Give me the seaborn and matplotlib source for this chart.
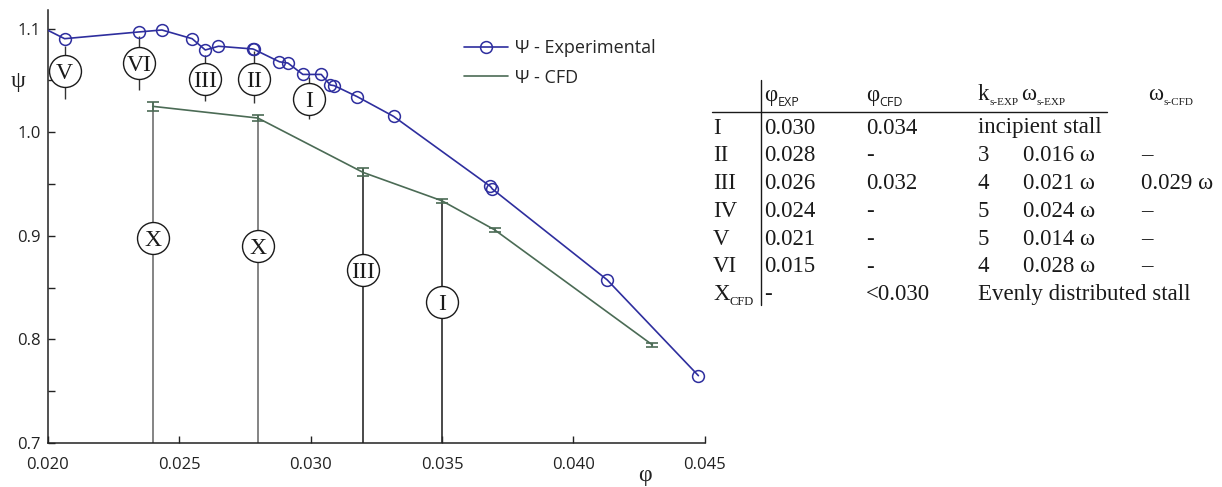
"""Compressor characteristic with stall inception markers"""
import numpy as np
import pandas as pd
import matplotlib.pyplot as plt
import seaborn as sns
from matplotlib.ticker import MultipleLocator

# Experimental characteristic
exp_phi = [0.0195, 0.02065, 0.02347, 0.02435, 0.0255, 0.0260, 0.0265, 0.0278, 0.02785,
           0.02882, 0.02914, 0.02971, 0.03041, 0.03075, 0.0309, 0.03178, 0.03316,
           0.03684, 0.03692, 0.04128, 0.04475]
exp_psi = [1.105, 1.0903, 1.0968, 1.0987, 1.0903, 1.0794, 1.083, 1.0804, 1.080,
           1.068, 1.0668, 1.0558, 1.0558, 1.0456, 1.045, 1.0343, 1.0153,
           0.9477, 0.9451, 0.8575, 0.765]

# CFD characteristic with error bars
cfd_phi = [0.024, 0.028, 0.032, 0.035, 0.037, 0.043]
cfd_psi = [1.025, 1.0137, 0.9612, 0.9338, 0.9058, 0.7947]
cfd_err = [0.0042, 0.003, 0.0039, 0.0017, 0.0022, 0.0022]

# Stall markers on the experimental curve
exp_lab = ['V', 'VI', 'III', 'II', 'I']
exp_lab_x = [0.02065, 0.02347, 0.0260, 0.02785, 0.02996]
exp_lab_y = [1.0588, 1.0668, 1.0513, 1.0513, 1.032]
exp_stem_lo = [1.032, 1.0404, 1.0298, 1.0282, 1.0128]
exp_stem_hi = [1.0828, 1.0926, 1.0749, 1.078, 1.0533]

# Stall markers on the CFD curve
cfd_lab = ['X', 'X', 'III', 'I']
cfd_lab_y = [0.898, 0.890, 0.867, 0.8365]

# Table
row_names = ['I', 'II', 'III', 'IV', 'V', 'VI', 'X']
col_phi_exp = ['0.030', '0.028', '0.026', '0.024', '0.021', '0.015', '-']
col_phi_cfd = ['0.034', '-', '0.032', '-', '-', '-', '<0.030']
col_k = ['', '3', '4', '5', '5', '4', '']
col_w_exp = ['', '0.016 ω', '0.021 ω', '0.024 ω', '0.014 ω', '0.028 ω', '']
col_w_cfd = ['', '–', '0.029 ω', '–', '–', '–', '']
row_notes = {0: 'incipient stall', 6: 'Evenly distributed stall'}

BLUE = '#2e2e9e'
GREEN = '#4b6b55'
INK = '#1a1a1a'
SERIF = ['Liberation Serif', 'DejaVu Serif']
SANS = ['Open Sans', 'DejaVu Sans']

sns.set_style('ticks')
plt.rcParams['font.family'] = SANS

fig = plt.figure(figsize=(12.22, 4.87), dpi=100)
ax = fig.add_axes([47.5 / 1222, 44 / 487, 657.5 / 1222, 433 / 487])

exp = pd.DataFrame({'phi': exp_phi, 'psi': exp_psi})
cfd = pd.DataFrame({'phi': cfd_phi, 'psi': cfd_psi})

sns.lineplot(data=exp, x='phi', y='psi', ax=ax, color=BLUE, lw=1.2, marker='o',
             markersize=8.5, markerfacecolor='none', markeredgecolor=BLUE,
             markeredgewidth=1.1, estimator=None, sort=False,
             label='Ψ - Experimental', zorder=3)
sns.lineplot(data=cfd, x='phi', y='psi', ax=ax, color=GREEN, lw=1.2,
             estimator=None, sort=False, label='Ψ - CFD', zorder=3)
ax.errorbar(cfd_phi, cfd_psi, yerr=cfd_err, fmt='none', ecolor=GREEN,
            capsize=4, elinewidth=1.2, capthick=1.2, zorder=3)

# stems for the CFD markers
top = np.array(cfd_psi[:4]) + np.array(cfd_err[:4])
ax.vlines(cfd_phi[:4], 0.7, top, colors=['#707070', '#707070', '#2a2a2a', '#2a2a2a'],
          lw=1.2, zorder=2)
for x, y, t in zip(cfd_phi[:4], cfd_lab_y, cfd_lab):
    ax.plot(x, y, 'o', ms=23, mfc='white', mec=INK, mew=1, zorder=4)
    ax.text(x, y, t, ha='center', va='center_baseline', family=SERIF,
            fontsize=17, color=INK, zorder=5)

# stems for the experimental markers
ax.vlines(exp_lab_x, exp_stem_lo, exp_stem_hi, colors='#333333', lw=1, zorder=2)
for x, y, t in zip(exp_lab_x, exp_lab_y, exp_lab):
    ax.plot(x, y, 'o', ms=23, mfc='white', mec=INK, mew=1, zorder=4)
    ax.text(x, y, t, ha='center', va='center_baseline', family=SERIF,
            fontsize=17, color=INK, zorder=5)

ax.set_xlim(0.020, 0.045)
ax.set_ylim(0.7, 1.118)
ax.xaxis.set_major_locator(MultipleLocator(0.005))
ax.yaxis.set_major_locator(MultipleLocator(0.1))
ax.yaxis.set_minor_locator(MultipleLocator(0.05))
ax.xaxis.set_major_formatter(plt.FuncFormatter(lambda v, p: f'{v:.3f}'))
ax.yaxis.set_major_formatter(plt.FuncFormatter(lambda v, p: f'{v:.1f}'))
ax.tick_params(axis='both', which='both', direction='in', length=5, width=1,
               color='#222222', labelsize=12, labelcolor='#222222')
ax.tick_params(axis='x', pad=10)
ax.tick_params(axis='y', pad=5)
sns.despine(ax=ax)
for s in ['left', 'bottom']:
    ax.spines[s].set_color('#222222')
    ax.spines[s].set_linewidth(1.1)

ax.set_xlabel('φ', family=SERIF, fontsize=17, color='#222222')
ax.xaxis.set_label_coords(0.909, -0.05)
ax.set_ylabel('ψ', family=SERIF, fontsize=17, color='#222222', rotation=0,
              va='center', ha='center')
ax.yaxis.set_label_coords(-0.045, 0.834)

ax.legend(loc='upper left', bbox_to_anchor=(0.633, 0.932), frameon=False,
          handlelength=2.45, handletextpad=0.4, labelspacing=0.63,
          borderpad=0, borderaxespad=0, fontsize=13, numpoints=1)

# table drawn in pixel coordinates
tax = fig.add_axes([0, 0, 1, 1])
tax.set_xlim(0, 1222)
tax.set_ylim(487, 0)
tax.axis('off')
tax.patch.set_alpha(0)

TS = 16.5


def sub_text(x, y, main, sub, sub_family=SERIF, sub_size=8, gap=0.3):
    t = tax.text(x, y, main, family=SERIF, fontsize=TS, va='center', ha='left',
                 color=INK)
    tax.annotate(sub, xy=(1, 0.15), xycoords=t, xytext=(gap, 0),
                 textcoords='offset points', family=sub_family, fontsize=sub_size,
                 va='center', ha='left', color=INK)


hy = 95
sub_text(764, hy, 'φ', 'EXP', sub_family=SANS, sub_size=9)
sub_text(866, hy, 'φ', 'CFD', sub_family=SANS, sub_size=9)
sub_text(978, hy, 'k', 's-EXP', gap=0)
sub_text(1021, hy, 'ω', 's-EXP')
sub_text(1148, hy, 'ω', 's-CFD')

tax.plot([712, 1107], [112, 112], color=INK, lw=1)
tax.plot([761, 761], [80, 305], color=INK, lw=1)

row_y = [128 + 27.8 * i for i in range(len(row_names))]
for i, y in enumerate(row_y):
    if row_names[i] == 'X':
        sub_text(713, y, 'X', 'CFD', sub_size=9)
    else:
        tax.text(713, y, row_names[i], family=SERIF, fontsize=TS, va='center',
                 color=INK)
    cells = [(764, col_phi_exp[i]), (866, col_phi_cfd[i]), (978, col_k[i]),
             (1023, col_w_exp[i]), (1141, col_w_cfd[i])]
    if i in row_notes:
        cells = cells[:2] + [(978, row_notes[i])]
    for x, s in cells:
        tax.text(x, y, s, family=SERIF, fontsize=TS, va='center', color=INK)

plt.savefig('out.png', dpi=100)
